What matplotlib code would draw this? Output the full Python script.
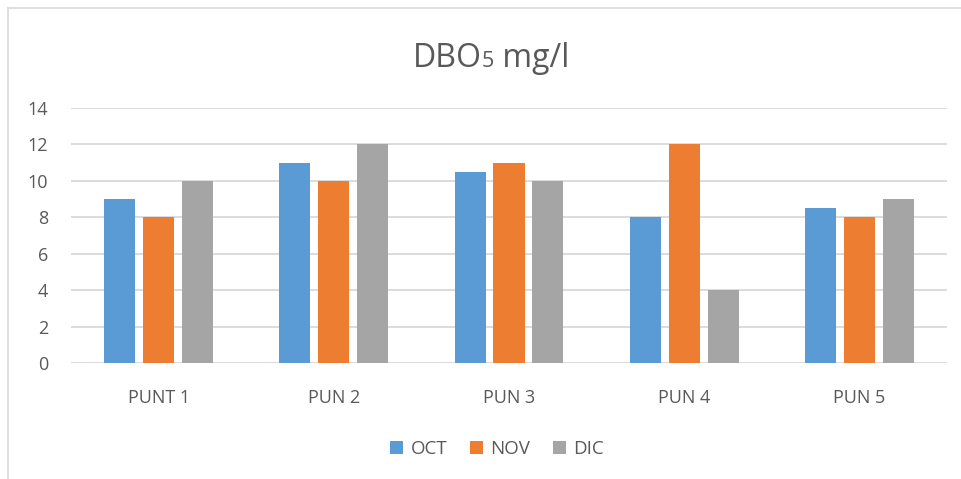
import matplotlib
matplotlib.use("Agg")
import matplotlib.pyplot as plt
import numpy as np
from matplotlib.lines import Line2D
from matplotlib.patches import Patch

categories = ["PUNT 1", "PUN 2", "PUN 3", "PUN 4", "PUN 5"]
series_names = ["OCT", "NOV", "DIC"]
oct_vals = [9, 11, 10.5, 8, 8.5]
nov_vals = [8, 10, 11, 12, 8]
dic_vals = [10, 12, 10, 4, 9]
colors = ["#5b9bd5", "#ed7d31", "#a5a5a5"]
yticks = [0, 2, 4, 6, 8, 10, 12, 14]

plt.rcParams['font.family'] = ['Open Sans', 'DejaVu Sans']
text_color = "#595959"
grid_color = "#d9d9d9"

W, H = 962, 479
fig = plt.figure(figsize=(W / 100, H / 100), dpi=100)
ax = fig.add_axes([71 / W, 1 - 363 / H, (947 - 71) / W, (363 - 108) / H])

x = np.arange(len(categories))
bw = 0.177
step = 0.222
for i, (vals, name) in enumerate(zip([oct_vals, nov_vals, dic_vals], series_names)):
    ax.bar(x + (i - 1) * step, vals, width=bw, color=colors[i], label=name, zorder=3)

ax.set_xlim(-0.5, len(categories) - 0.5)
ax.set_ylim(0, 14)
ax.set_yticks(yticks)
ax.set_xticks(x)
ax.set_xticklabels(categories)
ax.grid(axis='y', color=grid_color, linewidth=1.3, zorder=0)
for s in ax.spines.values():
    s.set_visible(False)
ax.tick_params(axis='both', length=0, colors=text_color, labelsize=13)
ax.tick_params(axis='x', pad=19)
ax.tick_params(axis='y', pad=16.5)
for lbl in ax.get_yticklabels():
    lbl.set_horizontalalignment('right')

# Title with a smaller "5"
fig.canvas.draw()
renderer = fig.canvas.get_renderer()
ty = 1 - 67 / H
t1 = fig.text(0, ty, "DBO", fontsize=23, color=text_color, va='baseline', ha='left')
t2 = fig.text(0, ty, "5", fontsize=15.5, color=text_color, va='baseline', ha='left')
t3 = fig.text(0, ty, " mg/l", fontsize=23, color=text_color, va='baseline', ha='left')
w1 = t1.get_window_extent(renderer).width
w2 = t2.get_window_extent(renderer).width
w3 = t3.get_window_extent(renderer).width
total = w1 + w2 + w3
start = 491 - total / 2
t1.set_x(start / W)
t2.set_x((start + w1) / W)
t3.set_x((start + w1 + w2) / W)

handles = [Patch(facecolor=c, label=n) for c, n in zip(colors, series_names)]
leg = fig.legend(handles=handles, loc='center', bbox_to_anchor=(497 / W, 1 - 449 / H),
                 ncol=3, frameon=False, fontsize=13.5, handlelength=0.7, handleheight=0.7,
                 handletextpad=0.4, columnspacing=1.2)
for t in leg.get_texts():
    t.set_color(text_color)

# outer border lines (top and left)
fig.add_artist(Line2D([8 / W, 1], [1 - 8 / H, 1 - 8 / H], color=grid_color, linewidth=1.2))
fig.add_artist(Line2D([8 / W, 8 / W], [0, 1 - 8 / H], color=grid_color, linewidth=1.2))

fig.savefig("out.png", dpi=100, facecolor='white')
